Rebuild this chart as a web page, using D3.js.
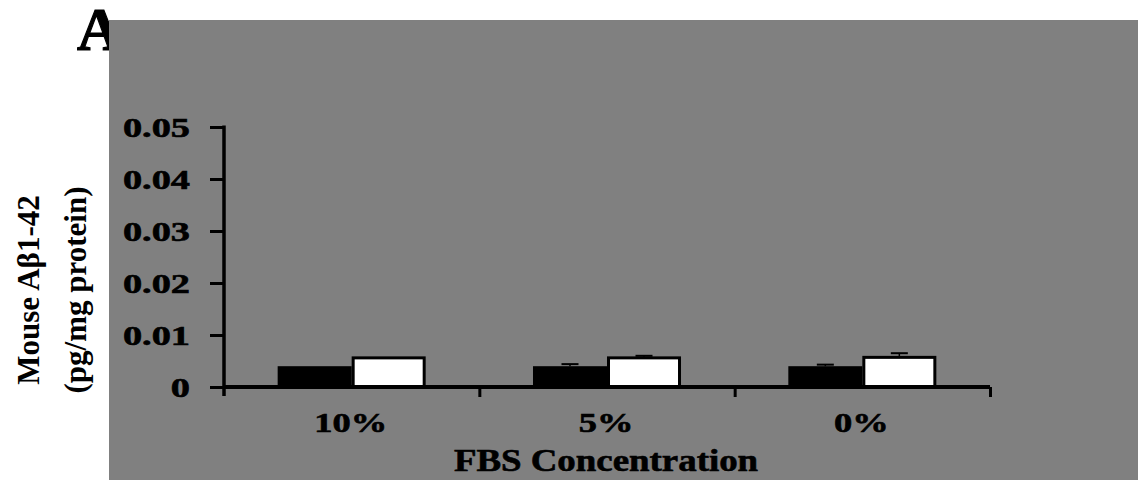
<!DOCTYPE html>
<html>
<head>
<meta charset="utf-8">
<script src="https://cdn.jsdelivr.net/npm/d3@7"></script>
<style>
  body { margin: 0; background: #fff; }
  text { font-family: "Liberation Serif", "Times New Roman", serif; font-weight: bold; fill: #000; }
  .heavy { stroke: #000; stroke-width: 0.6px; }
</style>
</head>
<body>
<div id="chart"></div>
<script>
// data
var categories = ["10%", "5%", "0%"]
var series = ["black", "white"]
var blackValues = [0.0040, 0.0040, 0.0040]
var blackErrors = [0.0000, 0.0004, 0.0003]
var whiteValues = [0.0056, 0.0056, 0.0057]
var whiteErrors = [0.0000, 0.0004, 0.0008]
var yTicks = [0, 0.01, 0.02, 0.03, 0.04, 0.05]
var yTickLabels = ["0", "0.01", "0.02", "0.03", "0.04", "0.05"]

var width = 1148, height = 480
var svg = d3.select("#chart").append("svg")
    .attr("width", width)
    .attr("height", height)

// panel letter sits behind the grey box
svg.append("text")
    .attr("x", 77).attr("y", 50)
    .attr("font-weight", "bold")
    .style("font-weight", "bold")
    .style("font-size", "62px")
    .attr("stroke", "#000").attr("stroke-width", 1.2)
    .text("A")

svg.append("rect")
    .attr("x", 109).attr("y", 20)
    .attr("width", 1029).attr("height", 460)
    .attr("fill", "#808080")

var x0 = d3.scaleBand().domain(categories).range([224, 990]).padding(0)
var x1 = d3.scaleBand().domain(series).range([0, x0.bandwidth()])
    .paddingInner(0).paddingOuter(0.725)
var y = d3.scaleLinear().domain([0, 0.05]).range([387, 127])

var rows = categories.map(function(c, i) {
    return [
        {cat: c, s: "black", v: blackValues[i], e: blackErrors[i]},
        {cat: c, s: "white", v: whiteValues[i], e: whiteErrors[i]}
    ]
})
var flat = [].concat.apply([], rows)

// bars
var g = svg.append("g")
g.selectAll("rect.bar")
    .data(flat)
    .enter().append("rect")
    .attr("class", "bar")
    .attr("x", d => x0(d.cat) + x1(d.s) + (d.s == "white" ? 1.5 : 0))
    .attr("y", d => y(d.v))
    .attr("width", d => x1.bandwidth() - (d.s == "white" ? 3 : 0))
    .attr("height", d => y(0) - y(d.v))
    .attr("fill", d => d.s == "black" ? "#000" : "#fff")
    .attr("stroke", "#000")
    .attr("stroke-width", d => d.s == "white" ? 3 : 0)

// error bars
var eb = g.selectAll("g.err")
    .data(flat.filter(d => d.e > 0))
    .enter().append("g")
    .attr("class", "err")
eb.append("line")
    .attr("x1", d => x0(d.cat) + x1(d.s) + x1.bandwidth() / 2)
    .attr("x2", d => x0(d.cat) + x1(d.s) + x1.bandwidth() / 2)
    .attr("y1", d => y(d.v))
    .attr("y2", d => y(d.v + d.e))
    .attr("stroke", "#000").attr("stroke-width", 1.5)
eb.append("line")
    .attr("x1", d => x0(d.cat) + x1(d.s) + x1.bandwidth() / 2 - 8.5)
    .attr("x2", d => x0(d.cat) + x1(d.s) + x1.bandwidth() / 2 + 8.5)
    .attr("y1", d => y(d.v + d.e))
    .attr("y2", d => y(d.v + d.e))
    .attr("stroke", "#000").attr("stroke-width", 2)

// y axis
var yAxis = svg.append("g")
    .attr("transform", "translate(224,0)")
    .call(d3.axisLeft(y).tickValues(yTicks).tickSize(14).tickFormat(""))
yAxis.select(".domain").remove()
yAxis.selectAll(".tick line").attr("stroke", "#000").attr("stroke-width", 3)
svg.append("line")
    .attr("x1", 224).attr("x2", 224)
    .attr("y1", y(0.05) - 1.5).attr("y2", y(0) + 9)
    .attr("stroke", "#000").attr("stroke-width", 3.5)

svg.append("g").selectAll("text")
    .data(yTicks)
    .enter().append("text")
    .attr("class", "heavy")
    .attr("transform", d => "translate(190," + (y(d) + 10) + ") scale(1.42,1)")
    .attr("text-anchor", "end")
    .style("font-size", "27px")
    .text((d, i) => yTickLabels[i])

// x axis
var xAxis = svg.append("g")
    .attr("transform", "translate(0," + y(0) + ")")
    .call(d3.axisBottom(d3.scaleLinear().domain([0, 3]).range([224, 990]))
        .tickValues([1, 2, 3]).tickSize(10).tickSizeOuter(0).tickFormat(""))
xAxis.select(".domain")
    .attr("d", "M224,0H990")
    .attr("stroke", "#000").attr("stroke-width", 4)
xAxis.selectAll(".tick line").attr("stroke", "#000").attr("stroke-width", 3)

svg.append("g").selectAll("text")
    .data(categories)
    .enter().append("text")
    .attr("class", "heavy")
    .attr("transform", d => "translate(" + (x0(d) + x0.bandwidth() / 2 - 1) + ",432) scale(1.35,1)")
    .attr("text-anchor", "middle")
    .style("font-size", "27px")
    .text(d => d)

svg.append("text")
    .attr("class", "heavy")
    .attr("transform", "translate(606,471) scale(1.19,1)")
    .attr("text-anchor", "middle")
    .style("font-size", "31px")
    .text("FBS Concentration")

// y title, outside the grey box
var yt = svg.append("text")
    .attr("transform", "translate(0,290) rotate(-90)")
    .attr("text-anchor", "middle")
    .style("font-size", "31px")
yt.append("tspan").attr("x", 0).attr("y", 39).text("Mouse A\u03b21-42")
yt.append("tspan").attr("x", 0).attr("y", 86).text("(pg/mg protein)")
</script>
</body>
</html>
